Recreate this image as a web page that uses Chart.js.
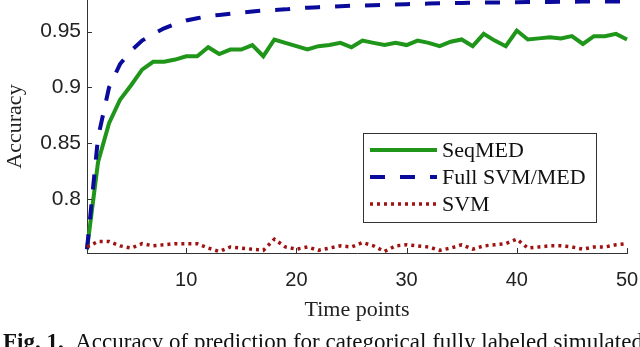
<!DOCTYPE html>
<html>
<head>
<meta charset="utf-8">
<script src="https://cdn.jsdelivr.net/npm/chart.js@4"></script>
<style>
  html, body { margin: 0; padding: 0; background: #fff; }
  #wrap { position: relative; width: 640px; height: 347px; overflow: hidden; }
  #caption {
    position: absolute; left: 3px; top: 329px; white-space: nowrap;
    font-family: "Liberation Serif", "DejaVu Serif", serif; font-size: 23px; color: #111;
  }
</style>
</head>
<body>
<div id="wrap">
  <canvas id="LineChart" width="640" height="347"></canvas>
  <div id="caption"><b>Fig. 1.</b>&nbsp;&nbsp;Accuracy of prediction for categorical fully labeled simulated data</div>
</div>
<script>
var timePoints = [1, 2, 3, 4, 5, 6, 7, 8, 9, 10, 11, 12, 13, 14, 15, 16, 17, 18, 19, 20,
  21, 22, 23, 24, 25, 26, 27, 28, 29, 30, 31, 32, 33, 34, 35, 36, 37, 38, 39, 40,
  41, 42, 43, 44, 45, 46, 47, 48, 49, 50];

var seqMED = [0.755, 0.833, 0.868, 0.889, 0.902, 0.916, 0.923, 0.923, 0.925, 0.928,
  0.928, 0.936, 0.930, 0.934, 0.934, 0.938, 0.928, 0.943, 0.940, 0.937,
  0.934, 0.937, 0.938, 0.940, 0.936, 0.942, 0.940, 0.938, 0.940, 0.938,
  0.942, 0.940, 0.937, 0.941, 0.943, 0.937, 0.948, 0.942, 0.937, 0.951,
  0.943, 0.944, 0.945, 0.944, 0.946, 0.939, 0.946, 0.946, 0.948, 0.943];

var fullSVM = [0.755, 0.855, 0.900, 0.921, 0.933, 0.942, 0.948, 0.953, 0.957, 0.960,
  0.962, 0.964, 0.965, 0.966, 0.967, 0.968, 0.969, 0.9695, 0.970, 0.971,
  0.9715, 0.972, 0.9724, 0.9728, 0.9732, 0.9735, 0.9738, 0.9741, 0.9744, 0.9747,
  0.975, 0.9752, 0.9754, 0.9756, 0.9758, 0.976, 0.9761, 0.9762, 0.9763, 0.9764,
  0.9765, 0.9766, 0.9767, 0.9768, 0.9769, 0.977, 0.977, 0.9771, 0.9771, 0.9772];

var svm = [0.757, 0.762, 0.762, 0.758, 0.756, 0.760, 0.758, 0.759, 0.760, 0.760,
  0.760, 0.756, 0.753, 0.757, 0.756, 0.755, 0.754, 0.764, 0.757, 0.755,
  0.757, 0.754, 0.756, 0.758, 0.757, 0.761, 0.758, 0.753, 0.758, 0.759,
  0.758, 0.757, 0.754, 0.756, 0.759, 0.755, 0.758, 0.759, 0.760, 0.764,
  0.756, 0.757, 0.758, 0.758, 0.757, 0.755, 0.757, 0.757, 0.759, 0.760];

var xTicks = [10, 20, 30, 40, 50];
var yTicks = [0.8, 0.85, 0.9, 0.95];
var yTickLabels = ["0.8", "0.85", "0.9", "0.95"];

function points(values) {
  return timePoints.map(function (t, i) { return { x: t, y: values[i] }; });
}

// MATLAB style ticks pointing into the plot
var inwardTicks = {
  id: 'inwardTicks',
  afterDraw: function (chart) {
    var ctx = chart.ctx, a = chart.chartArea;
    var xs = chart.scales.x, ys = chart.scales.y;
    ctx.save();
    ctx.strokeStyle = '#333';
    ctx.lineWidth = 1;
    ctx.beginPath();
    xTicks.forEach(function (v) {
      var px = Math.round(xs.getPixelForValue(v)) + 0.5;
      ctx.moveTo(px, a.bottom);
      ctx.lineTo(px, a.bottom - 5);
    });
    yTicks.forEach(function (v) {
      var py = Math.round(ys.getPixelForValue(v)) + 0.5;
      ctx.moveTo(a.left, py);
      ctx.lineTo(a.left + 5, py);
    });
    ctx.stroke();
    ctx.restore();
  }
};

// legend box inside the plot area
var boxLegend = {
  id: 'boxLegend',
  afterDraw: function (chart) {
    var ctx = chart.ctx;
    var bx = 363, by = 133, bw = 233, bh = 89;
    ctx.save();
    ctx.fillStyle = '#fff';
    ctx.fillRect(bx, by, bw, bh);
    ctx.strokeStyle = '#333';
    ctx.lineWidth = 1;
    ctx.strokeRect(bx + 0.5, by + 0.5, bw, bh);
    ctx.font = '22px "Liberation Serif", serif';
    ctx.textBaseline = 'middle';
    chart.data.datasets.forEach(function (ds, i) {
      var y = by + 17 + i * 27;
      ctx.strokeStyle = ds.borderColor;
      ctx.lineWidth = ds.borderWidth;
      ctx.setLineDash(ds.borderDash || []);
      ctx.beginPath();
      ctx.moveTo(370, y);
      ctx.lineTo(437, y);
      ctx.stroke();
      ctx.setLineDash([]);
      ctx.fillStyle = '#111';
      ctx.fillText(ds.label, 442, y + 1);
    });
    ctx.restore();
  }
};

var ctx = document.getElementById("LineChart").getContext('2d');
var myChart = new Chart(ctx, {
  type: 'line',
  data: {
    datasets: [{
      label: 'SeqMED',
      data: points(seqMED),
      borderColor: '#1f961a',
      borderWidth: 4,
      order: 2
    }, {
      label: 'Full SVM/MED',
      data: points(fullSVM),
      borderColor: '#0a0a9c',
      borderWidth: 4,
      borderDash: [15, 15],
      order: 1
    }, {
      label: 'SVM',
      data: points(svm),
      borderColor: '#a01212',
      borderWidth: 3.5,
      borderDash: [3, 4],
      order: 0
    }]
  },
  options: {
    responsive: false,
    animation: false,
    clip: false,
    elements: { point: { radius: 0 }, line: { tension: 0, borderCapStyle: 'butt' } },
    layout: { padding: { left: 0, right: 13, top: 0, bottom: 0 } },
    plugins: { legend: { display: false }, tooltip: { enabled: false } },
    scales: {
      x: {
        type: 'linear',
        min: 1,
        max: 50,
        afterBuildTicks: function (s) { s.ticks = xTicks.map(function (v) { return { value: v }; }); },
        afterFit: function (s) { s.height = 94; s.paddingLeft = 0; s.paddingRight = 0; },
        grid: { display: false, drawTicks: false },
        border: { display: true, color: '#333', width: 1 },
        ticks: { color: '#222', padding: 15, font: { family: '"Liberation Sans", Arial, sans-serif', size: 20 } },
        title: {
          display: true, text: 'Time points', color: '#222',
          font: { family: '"Liberation Serif", serif', size: 22 },
          padding: { top: 0, bottom: 24 }
        }
      },
      y: {
        min: 0.7516,
        max: 0.9784,
        afterBuildTicks: function (s) { s.ticks = yTicks.map(function (v) { return { value: v }; }); },
        afterFit: function (s) { s.width = 87; s.paddingTop = 0; s.paddingBottom = 0; },
        grid: { display: false, drawTicks: false },
        border: { display: true, color: '#333', width: 1 },
        ticks: {
          color: '#222', padding: 6,
          font: { family: '"Liberation Sans", Arial, sans-serif', size: 21 },
          callback: function (v) { return yTickLabels[yTicks.indexOf(v)]; }
        },
        title: {
          display: true, text: 'Accuracy', color: '#222',
          font: { family: '"Liberation Serif", serif', size: 22 },
          padding: { top: 2, bottom: 0 }
        }
      }
    }
  },
  plugins: [inwardTicks, boxLegend]
});
</script>
</body>
</html>
